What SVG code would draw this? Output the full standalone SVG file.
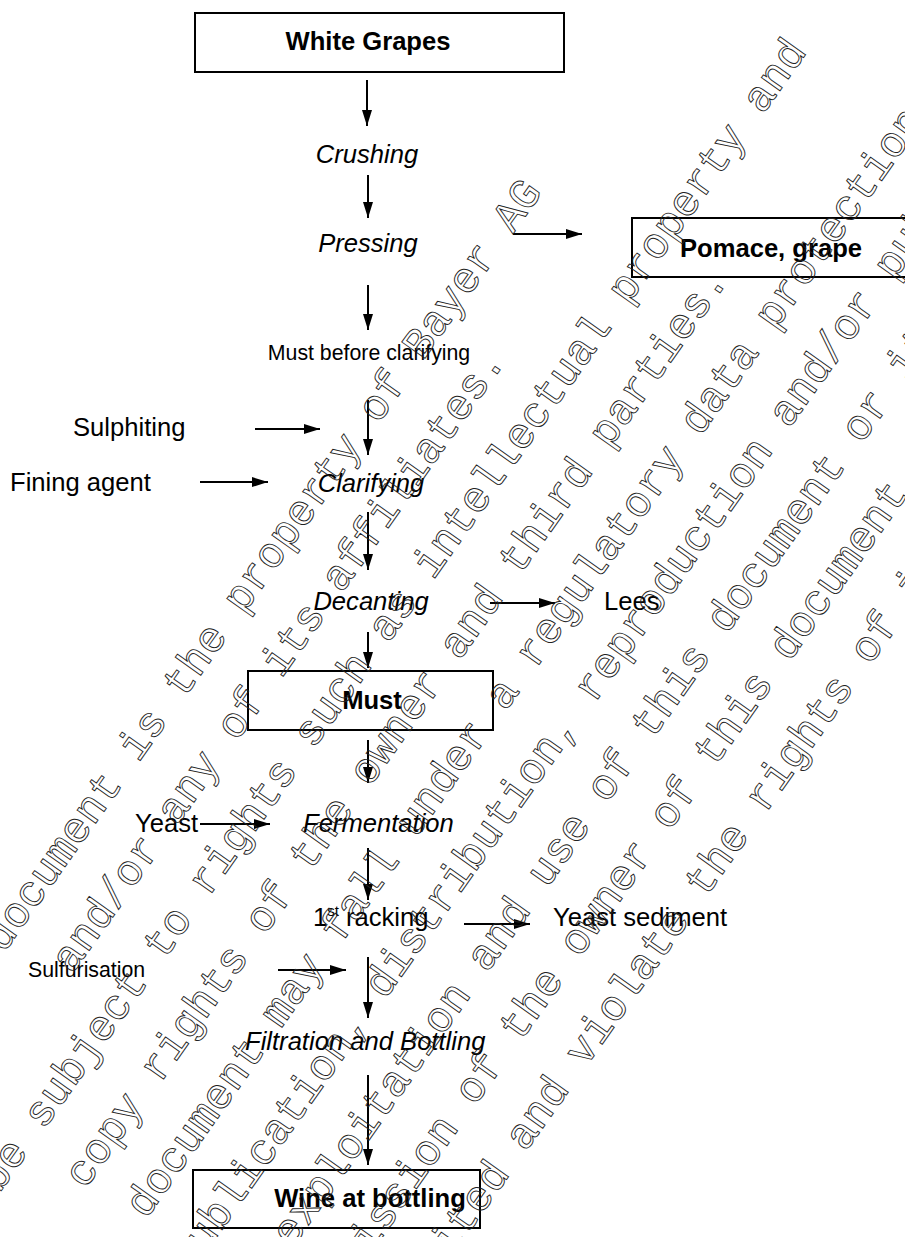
<svg xmlns="http://www.w3.org/2000/svg" width="905" height="1237" viewBox="0 0 905 1237">
  <defs>
    <marker id="arrow" markerUnits="userSpaceOnUse" markerWidth="17" markerHeight="11" refX="16" refY="5" orient="auto">
      <path d="M0,0 L16,5 L0,10 Z" fill="#000"/>
    </marker>
    <style>
      .lbl { font-family: "Liberation Sans", Arial, sans-serif; font-size: 25.6px; fill: #000; }
      .sm { font-size: 21.3px; }
      .b { font-weight: bold; }
      .i { font-style: italic; }
      .mid { text-anchor: middle; }
      .box { fill: none; stroke: #000; stroke-width: 2; }
      .conn line { stroke: #000; stroke-width: 2; marker-end: url(#arrow); }
      .wm { font-family: "Liberation Mono", "Courier New", monospace; font-size: 43.2px; fill: none; stroke: #222; stroke-width: 0.9; }
    </style>
  </defs>

  <rect width="905" height="1237" fill="#fff"/>

  <!-- process nodes -->
  <g id="white-grapes">
    <rect class="box" x="195" y="13" width="369" height="59"/>
    <text class="lbl b mid" x="368" y="50">White Grapes</text>
  </g>
  <g id="crushing"><text class="lbl i mid" x="367" y="163">Crushing</text></g>
  <g id="pressing"><text class="lbl i mid" x="368" y="252">Pressing</text></g>
  <g id="pomace">
    <rect class="box" x="632" y="218" width="290" height="59"/>
    <text class="lbl b mid" x="771" y="257">Pomace, grape</text>
  </g>
  <g id="must-before"><text class="lbl sm mid" x="369" y="360">Must before clarifying</text></g>
  <g id="sulphiting"><text class="lbl" x="73" y="436">Sulphiting</text></g>
  <g id="fining-agent"><text class="lbl" x="10" y="491">Fining agent</text></g>
  <g id="clarifying"><text class="lbl i mid" x="371" y="492">Clarifying</text></g>
  <g id="decanting"><text class="lbl i mid" x="371" y="610">Decanting</text></g>
  <g id="lees"><text class="lbl" x="604" y="610">Lees</text></g>
  <g id="must">
    <rect class="box" x="248" y="671" width="245" height="59"/>
    <text class="lbl b mid" x="372" y="709">Must</text>
  </g>
  <g id="yeast"><text class="lbl" x="135" y="832">Yeast</text></g>
  <g id="fermentation"><text class="lbl i" x="303" y="832">Fermentation</text></g>
  <g id="racking"><text class="lbl" x="313" y="926">1<tspan font-size="15" dy="-10">st</tspan><tspan dy="10"> racking</tspan></text></g>
  <g id="yeast-sediment"><text class="lbl" x="553" y="926">Yeast sediment</text></g>
  <g id="sulfurisation"><text class="lbl sm" x="28" y="977">Sulfurisation</text></g>
  <g id="filtration"><text class="lbl i" x="245" y="1050">Filtration and Bottling</text></g>
  <g id="wine">
    <rect class="box" x="193" y="1170" width="287" height="58"/>
    <text class="lbl b mid" x="370" y="1207">Wine at bottling</text>
  </g>

  <!-- connectors -->
  <g id="connectors" class="conn">
    <line x1="367" y1="80" x2="367" y2="126"/>
    <line x1="368" y1="175" x2="368" y2="218"/>
    <line x1="513" y1="234" x2="582" y2="234"/>
    <line x1="368" y1="285" x2="368" y2="330"/>
    <line x1="368" y1="400" x2="368" y2="455"/>
    <line x1="255" y1="429" x2="320" y2="429"/>
    <line x1="200" y1="482" x2="268" y2="482"/>
    <line x1="368" y1="512" x2="368" y2="570"/>
    <line x1="490" y1="603" x2="555" y2="603"/>
    <line x1="368" y1="632" x2="368" y2="668"/>
    <line x1="368" y1="740" x2="368" y2="783"/>
    <line x1="200" y1="824" x2="270" y2="824"/>
    <line x1="368" y1="848" x2="368" y2="900"/>
    <line x1="464" y1="924" x2="530" y2="924"/>
    <line x1="278" y1="970" x2="346" y2="970"/>
    <line x1="368" y1="957" x2="368" y2="1018"/>
    <line x1="368" y1="1075" x2="368" y2="1165"/>
  </g>

  <!-- diagonal outlined notice across the page -->
  <g id="watermark" class="wm" transform="rotate(-54.7)">
    <text x="-776" y="554">document is the property of Bayer AG</text>
    <text x="-754" y="622">and/or any of its affiliates.</text>
    <text x="-975" y="689">be subject to rights such as intellectual property and</text>
    <text x="-922" y="757">copy rights of the owner and third parties.</text>
    <text x="-911" y="824">document may fall under a regulatory data protection</text>
    <text x="-931" y="892">publication, distribution, reproduction and/or publishing</text>
    <text x="-850" y="960">exploitation and use of this document or its</text>
    <text x="-914" y="1027">permission of the owner of this document</text>
    <text x="-922" y="1095">prohibited and violate the rights of its</text>
  </g>
</svg>
